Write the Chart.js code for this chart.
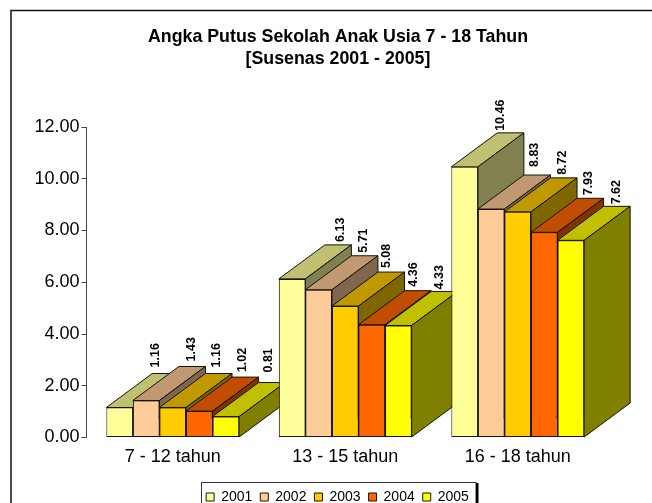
<!DOCTYPE html>
<html>
<head>
<meta charset="utf-8">
<style>html,body{margin:0;padding:0;background:#fff;overflow:hidden}canvas{display:block}</style>
<script src="https://cdn.jsdelivr.net/npm/chart.js@4"></script>
</head>
<body>
<canvas id="c" width="652" height="503"></canvas>
<script>
const categories = ["7 - 12 tahun", "13 - 15 tahun", "16 - 18 tahun"];
const years = ["2001", "2002", "2003", "2004", "2005"];
const v2001 = [1.16, 6.13, 10.46];
const v2002 = [1.43, 5.71, 8.83];
const v2003 = [1.16, 5.08, 8.72];
const v2004 = [1.02, 4.36, 7.93];
const v2005 = [0.81, 4.33, 7.62];
const seriesValues = [v2001, v2002, v2003, v2004, v2005];

const frontColors = ["#FFFF99", "#FFCC99", "#FFCC00", "#FF6600", "#FFFF00"];
const topColors   = ["#C0C073", "#C09973", "#C09900", "#C04D00", "#C0C000"];
const sideColors  = ["#808050", "#80664D", "#806600", "#803300", "#808000"];
const edge = "#14140a";
const depthX = 46, depthY = -34;
// label offsets from the back-left corner of each bar's top, by series then category
const labelNudgeX = [[3,16,3],[13,12,11],[11,9,12],[11,9,12],[10,8,13]];
const labelNudgeY = [[6,3,2],[5,3,8],[6,4,3],[5,4,3],[10,2,2]];

const faces3d = {
  id: "faces3d",
  beforeDraw(chart) {
    const c = chart.ctx;
    c.save();
    c.fillStyle = "#fff";
    c.fillRect(0, 0, chart.width, chart.height);
    c.strokeStyle = "#111";
    c.lineWidth = 1.5;
    c.beginPath();
    c.moveTo(652, 10.5); c.lineTo(11, 10.5); c.lineTo(11, 503);
    c.stroke();
    // legend frame
    c.strokeStyle = "#333";
    c.lineWidth = 1;
    c.strokeRect(201.5, 482.5, 274.5, 40);
    c.fillStyle = "#000";
    c.fillRect(476, 483, 2.5, 20);
    c.restore();
  },
  beforeDatasetsDraw(chart) {
    const c = chart.ctx;
    c.save();
    c.strokeStyle = edge;
    c.lineWidth = 1;
    c.lineJoin = "round";
    categories.forEach((_, ci) => {
      years.forEach((_, si) => {
        const b = chart.getDatasetMeta(si).data[ci];
        const l = b.x - b.width / 2, r = b.x + b.width / 2, t = b.y, base = b.base;
        c.fillStyle = topColors[si];
        c.beginPath();
        c.moveTo(l, t); c.lineTo(l + depthX, t + depthY); c.lineTo(r + depthX, t + depthY); c.lineTo(r, t);
        c.closePath(); c.fill(); c.stroke();
        c.fillStyle = sideColors[si];
        c.beginPath();
        c.moveTo(r, t); c.lineTo(r + depthX, t + depthY); c.lineTo(r + depthX, base + depthY); c.lineTo(r, base);
        c.closePath(); c.fill(); c.stroke();
      });
    });
    c.restore();
  },
  afterDatasetsDraw(chart) {
    const c = chart.ctx;
    c.save();
    c.fillStyle = "#000";
    c.font = "bold 12.5px 'Liberation Sans', Arial, sans-serif";
    c.textAlign = "left";
    c.textBaseline = "middle";
    categories.forEach((_, ci) => {
      years.forEach((_, si) => {
        const b = chart.getDatasetMeta(si).data[ci];
        const x = b.x - b.width / 2 + depthX + labelNudgeX[si][ci];
        const y = b.y + depthY - labelNudgeY[si][ci];
        c.save();
        c.translate(x, y);
        c.rotate(-Math.PI / 2);
        c.fillText(seriesValues[si][ci].toFixed(2), 0, 0);
        c.restore();
      });
    });
    c.restore();
  },
  afterLayout(chart) {
    const t = chart.titleBlock, g = chart.legend;
    const shift = 338 - (t.left + t.right) / 2;
    t.left += shift; t.right += shift;
    const ls = 337.5 - (g.left + g.right) / 2;
    g.left += ls; g.right += ls;
    g.top += 11; g.bottom += 11;
  }
};

new Chart(document.getElementById("c"), {
  type: "bar",
  data: {
    labels: categories,
    datasets: years.map((y, i) => ({
      label: y,
      data: seriesValues[i],
      backgroundColor: frontColors[i],
      borderColor: edge,
      borderWidth: 1,
      borderSkipped: false,
      categoryPercentage: 0.77,
      barPercentage: 1
    }))
  },
  plugins: [faces3d],
  options: {
    responsive: false,
    animation: false,
    events: [],
    layout: { padding: { left: 0, right: 48, top: 0, bottom: 0 } },
    plugins: {
      tooltip: { enabled: false },
      title: {
        display: true,
        text: ["Angka Putus Sekolah Anak Usia 7 - 18 Tahun", "[Susenas 2001 - 2005]"],
        color: "#000",
        font: { family: "'Liberation Sans', Arial, sans-serif", size: 17.8, weight: "bold", lineHeight: 1.236 },
        padding: { top: 26, bottom: 57 }
      },
      legend: {
        position: "bottom",
        labels: {
          color: "#000",
          font: { family: "'Liberation Sans', Arial, sans-serif", size: 14 },
          boxWidth: 8, boxHeight: 8, padding: 8
        }
      }
    },
    scales: {
      x: {
        afterFit(s) { s.height = 33.5; },
        grid: { display: false },
        border: { display: false },
        ticks: { color: "#000", padding: 1, font: { family: "'Liberation Sans', Arial, sans-serif", size: 18 }, maxRotation: 0 }
      },
      y: {
        min: 0, max: 12,
        afterFit(s) { s.width = 86.5; },
        grid: { drawOnChartArea: false, drawTicks: true, tickLength: 5, color: "#444" },
        border: { color: "#444", width: 1 },
        ticks: {
          stepSize: 2, color: "#000", padding: 2,
          font: { family: "'Liberation Sans', Arial, sans-serif", size: 18 },
          callback: v => Number(v).toFixed(2)
        }
      }
    }
  }
});
</script>
</body>
</html>
